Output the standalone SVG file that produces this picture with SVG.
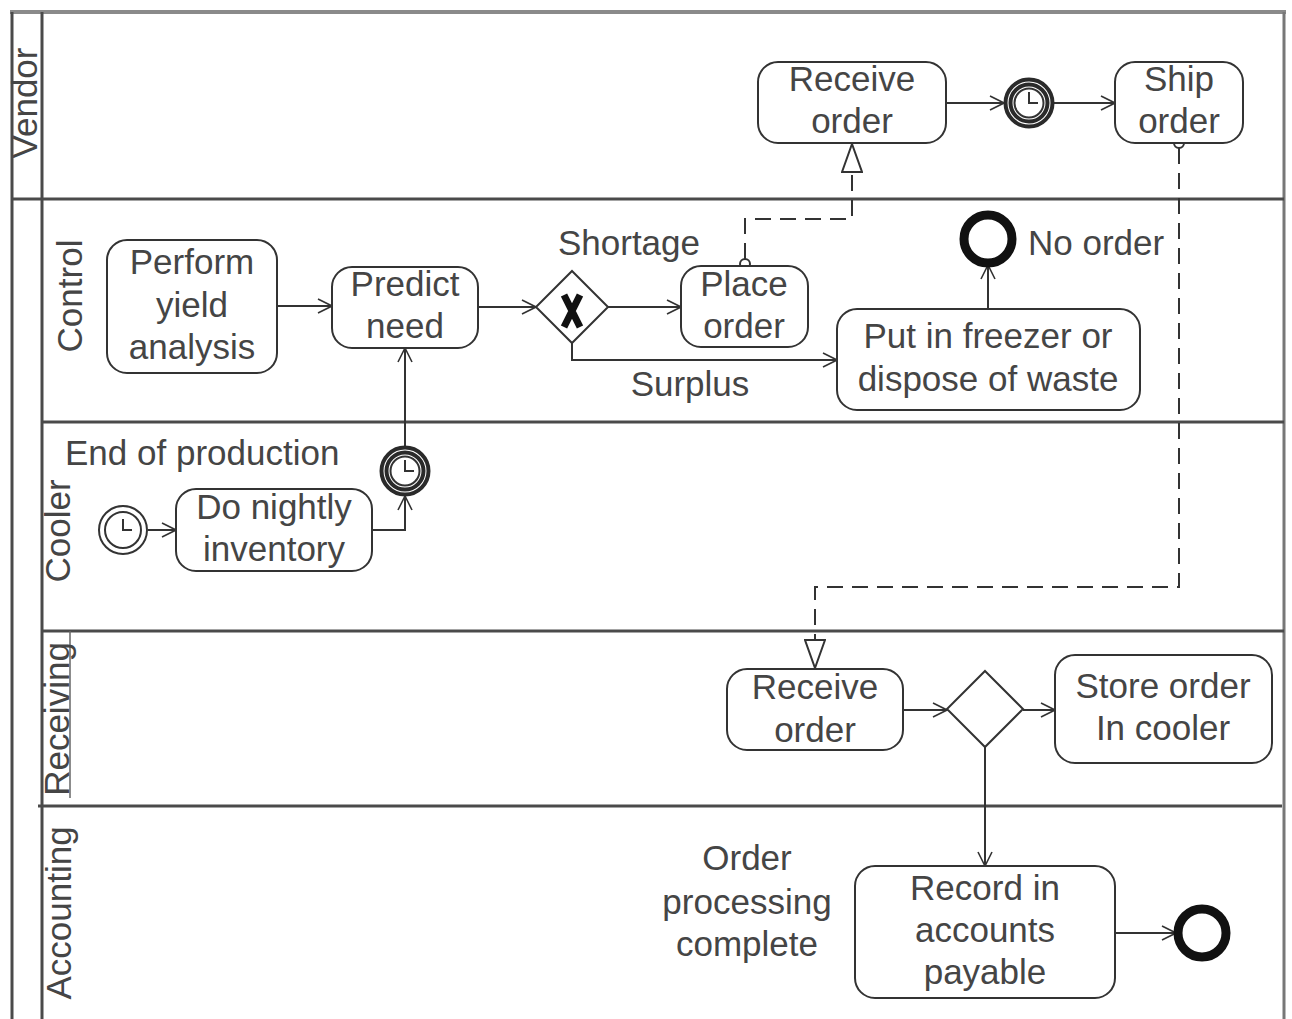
<svg xmlns="http://www.w3.org/2000/svg" width="1292" height="1019" viewBox="0 0 1292 1019">
<style>
  text { font-family: "Liberation Sans", Arial, sans-serif; font-size: 35px; fill: #454545; }
  .c { text-anchor: middle; }
  .box { fill: #fff; stroke: #333; stroke-width: 2; }
  .lane { stroke: #4a4a4a; stroke-width: 3; fill: none; }
  .flow { stroke: #333; stroke-width: 2; fill: none; marker-end: url(#arr); }
  .msg { stroke: #333; stroke-width: 2; fill: none; stroke-dasharray: 16 9; marker-end: url(#tri); }
  .gw { fill: #fff; stroke: #333; stroke-width: 2; }
  .end { fill: #fff; stroke: #111; stroke-width: 9; }
  .ring { fill: none; stroke: #2a2a2a; stroke-width: 4; }
  .thin { fill: #fff; stroke: #333; stroke-width: 2; }
  .hand { fill: none; stroke: #333; stroke-width: 2; }
</style>
<defs>
  <marker id="arr" viewBox="0 0 16 16" refX="15" refY="8" markerWidth="16" markerHeight="16" orient="auto" markerUnits="userSpaceOnUse">
    <path d="M1,1 L15,8 L1,15" fill="none" stroke="#333" stroke-width="1.6"/>
  </marker>
  <marker id="tri" viewBox="0 0 30 22" refX="29" refY="11" markerWidth="30" markerHeight="22" orient="auto" markerUnits="userSpaceOnUse">
    <path d="M1,1 L29,11 L1,21 Z" fill="#fff" stroke="#333" stroke-width="2"/>
  </marker>
</defs>
<rect x="0" y="0" width="1292" height="1019" fill="#fff"/>

<g id="lanes">
  <line x1="10" y1="12" x2="1286" y2="12" stroke="#8a8a8a" stroke-width="4"/>
  <line x1="12" y1="12" x2="12" y2="1019" class="lane" stroke-width="2.5"/>
  <line x1="42" y1="12" x2="42" y2="1019" class="lane" stroke-width="2.5"/>
  <line x1="1284" y1="12" x2="1284" y2="1019" stroke="#777" stroke-width="3"/>
  <line x1="12" y1="199" x2="1284" y2="199" class="lane"/>
  <line x1="42" y1="422" x2="1284" y2="422" class="lane" stroke="#666"/>
  <line x1="42" y1="631" x2="1284" y2="631" class="lane" stroke="#666"/>
  <line x1="38" y1="806" x2="1282" y2="806" class="lane" stroke="#666"/>
  <line x1="70" y1="631" x2="70" y2="798" stroke="#666" stroke-width="1.5"/>
  <text class="c" transform="translate(37,103) rotate(-90)">Vendor</text>
  <text class="c" transform="translate(82,296) rotate(-90)">Control</text>
  <text class="c" transform="translate(70,531) rotate(-90)">Cooler</text>
  <text class="c" transform="translate(69,719) rotate(-90)">Receiving</text>
  <text class="c" transform="translate(71,913) rotate(-90)">Accounting</text>
</g>

<g id="connectors">
  <path class="flow" d="M946,103 L1004,103"/>
  <path class="flow" d="M1054,103 L1115,103"/>
  <path class="flow" d="M277,306 L332,306"/>
  <path class="flow" d="M478,307 L536,307"/>
  <path class="flow" d="M608,307 L681,307"/>
  <path class="flow" d="M572,343 L572,360 L837,360"/>
  <path class="flow" d="M988,309 L988,265"/>
  <path class="flow" d="M148,530 L176,530"/>
  <path class="flow" d="M372,530 L405,530 L405,496"/>
  <path class="flow" d="M405,446 L405,348"/>
  <path class="flow" d="M903,710 L947,710"/>
  <path class="flow" d="M1023,710 L1055,710"/>
  <path class="flow" d="M985,747 L985,866"/>
  <path class="flow" d="M1115,933 L1176,933"/>
  <path class="msg" d="M745,259 L745,219 L852,219 L852,144"/>
  <path class="msg" d="M1179,148 L1179,587 L815,587 L815,668"/>
  <circle cx="745" cy="264" r="5" class="thin" stroke-width="1.6"/>
  <circle cx="1179" cy="143" r="5" class="thin" stroke-width="1.6"/>
  <text x="629" y="255" class="c">Shortage</text>
  <text x="690" y="396" class="c">Surplus</text>
</g>

<g id="vendor-receive-order">
  <rect class="box" x="758" y="62" width="188" height="81" rx="20"/>
  <text class="c" x="852" y="91">Receive</text>
  <text class="c" x="852" y="133">order</text>
</g>
<g id="vendor-timer">
  <circle cx="1029" cy="103" r="23.5" class="ring"/>
  <circle cx="1029" cy="103" r="18.5" class="ring" stroke-width="3"/>
  <circle cx="1029" cy="103" r="14.5" class="thin" stroke-width="1.8"/>
  <path class="hand" d="M1029,92 L1029,103 L1038,103"/>
</g>
<g id="ship-order">
  <rect class="box" x="1115" y="62" width="128" height="81" rx="20"/>
  <text class="c" x="1179" y="91">Ship</text>
  <text class="c" x="1179" y="133">order</text>
</g>

<g id="perform-yield-analysis">
  <rect class="box" x="107" y="240" width="170" height="133" rx="20"/>
  <text class="c" x="192" y="274">Perform</text>
  <text class="c" x="192" y="317">yield</text>
  <text class="c" x="192" y="359">analysis</text>
</g>
<g id="predict-need">
  <rect class="box" x="332" y="267" width="146" height="81" rx="20"/>
  <text class="c" x="405" y="296">Predict</text>
  <text class="c" x="405" y="338">need</text>
</g>
<g id="gateway-x">
  <polygon class="gw" points="572,271 608,307 572,343 536,307"/>
  <path d="M564,295 L580,327 M580,295 L564,327" stroke="#111" stroke-width="7" fill="none"/>
</g>
<g id="place-order">
  <rect class="box" x="681" y="266" width="127" height="81" rx="20"/>
  <text class="c" x="744" y="296">Place</text>
  <text class="c" x="744" y="338">order</text>
</g>
<g id="put-in-freezer">
  <rect class="box" x="837" y="309" width="303" height="101" rx="20"/>
  <text class="c" x="988" y="348">Put in freezer or</text>
  <text class="c" x="988" y="391">dispose of waste</text>
</g>
<g id="end-no-order">
  <circle cx="988" cy="239" r="24" class="end"/>
  <text x="1028" y="255">No order</text>
</g>

<g id="start-timer">
  <circle cx="123" cy="530" r="24" class="thin"/>
  <circle cx="123" cy="530" r="18" class="thin"/>
  <path class="hand" d="M123,519 L123,530 L132,530"/>
  <text x="65" y="465">End of production</text>
</g>
<g id="do-nightly-inventory">
  <rect class="box" x="176" y="489" width="196" height="82" rx="20"/>
  <text class="c" x="274" y="519">Do nightly</text>
  <text class="c" x="274" y="561">inventory</text>
</g>
<g id="cooler-timer">
  <circle cx="405" cy="471" r="23.5" class="ring"/>
  <circle cx="405" cy="471" r="18.5" class="ring" stroke-width="3"/>
  <circle cx="405" cy="471" r="14.5" class="thin" stroke-width="1.8"/>
  <path class="hand" d="M405,460 L405,471 L414,471"/>
</g>

<g id="receiving-receive-order">
  <rect class="box" x="727" y="669" width="176" height="81" rx="20"/>
  <text class="c" x="815" y="699">Receive</text>
  <text class="c" x="815" y="742">order</text>
</g>
<g id="gateway-receiving">
  <polygon class="gw" points="985,671 1023,709 985,747 947,709"/>
</g>
<g id="store-order">
  <rect class="box" x="1055" y="655" width="217" height="108" rx="20"/>
  <text class="c" x="1163" y="698">Store order</text>
  <text class="c" x="1163" y="740">In cooler</text>
</g>

<g id="record-accounts-payable">
  <rect class="box" x="855" y="866" width="260" height="132" rx="20"/>
  <text class="c" x="985" y="900">Record in</text>
  <text class="c" x="985" y="942">accounts</text>
  <text class="c" x="985" y="984">payable</text>
</g>
<g id="end-order-complete">
  <circle cx="1202" cy="933" r="24" class="end"/>
  <text class="c" x="747" y="870">Order</text>
  <text class="c" x="747" y="914">processing</text>
  <text class="c" x="747" y="956">complete</text>
</g>
</svg>
